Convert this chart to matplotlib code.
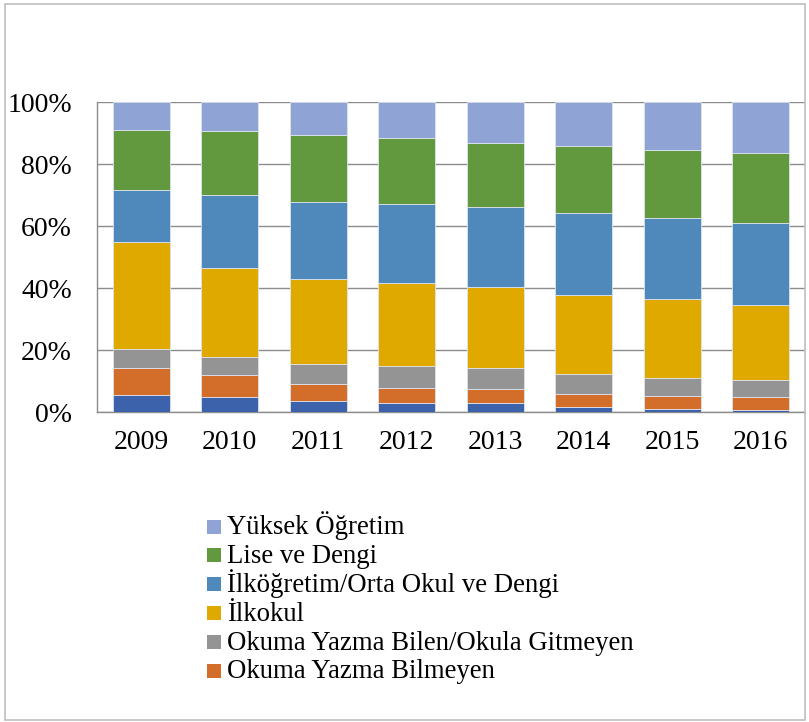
import matplotlib
matplotlib.use("Agg")
import matplotlib.pyplot as plt
from matplotlib.patches import Rectangle
import numpy as np

years = ["2009", "2010", "2011", "2012", "2013", "2014", "2015", "2016"]
bilinmeyen = [5.5, 5.0, 3.5, 2.9, 2.9, 1.5, 1.0, 0.7]
okuma_yazma_bilmeyen = [8.6, 6.9, 5.5, 5.0, 4.5, 4.4, 4.2, 4.1]
okuma_yazma_bilen = [6.1, 5.8, 6.4, 6.8, 6.7, 6.3, 5.8, 5.5]
ilkokul = [34.5, 28.9, 27.6, 26.8, 26.2, 25.5, 25.3, 24.1]
ilkogretim = [17.0, 23.4, 24.8, 25.6, 25.8, 26.5, 26.3, 26.5]
lise = [19.4, 20.7, 21.4, 21.4, 20.8, 21.7, 21.9, 22.8]
yuksek = [8.9, 9.3, 10.8, 11.5, 13.1, 14.1, 15.5, 16.3]

series = [
    ("Bilinmeyen", bilinmeyen, "#3B62AA"),
    ("Okuma Yazma Bilmeyen", okuma_yazma_bilmeyen, "#D26D2A"),
    ("Okuma Yazma Bilen/Okula Gitmeyen", okuma_yazma_bilen, "#949494"),
    ("İlkokul", ilkokul, "#E0A900"),
    ("İlköğretim/Orta Okul ve Dengi", ilkogretim, "#4F89BB"),
    ("Lise ve Dengi", lise, "#62993E"),
    ("Yüksek Öğretim", yuksek, "#8FA3D4"),
]

plt.rcParams['font.family'] = ['Liberation Serif', 'DejaVu Serif']

W, H = 809, 722
fig = plt.figure(figsize=(W / 100, H / 100), dpi=100)
# outer frame
fig.add_artist(Rectangle((5 / W, 2 / H), 800 / W, 716 / H, transform=fig.transFigure,
                         fill=False, edgecolor="#BFBFBF", linewidth=1.2))

ax = fig.add_axes([97 / W, 1 - 412 / H, 708 / W, 310 / H])
x = np.arange(len(years))
data = [np.array(v, dtype=float) for _, v, _ in series]
total = np.sum(data, axis=0)
bottom = np.zeros(len(years))
colors = {}
for (name, vals, col), arr in zip(series, data):
    frac = arr / total
    ax.bar(x, frac, bottom=bottom, width=0.64, color=col,
           edgecolor="#DDE3EE", linewidth=0.6, zorder=3, label=name)
    colors[name] = col
    bottom += frac

ax.set_xlim(-0.5, len(years) - 0.5)
ax.set_ylim(0, 1)
ax.set_yticks(np.linspace(0, 1, 6))
ax.set_yticklabels([f"{int(round(v*100))}%" for v in np.linspace(0, 1, 6)], fontsize=20)
ax.set_xticks(x)
ax.set_xticklabels(years, fontsize=20)
ax.tick_params(axis='y', length=0, pad=18)
ax.tick_params(axis='x', length=0, pad=13)
ax.yaxis.grid(True, color="#8C8C8C", linewidth=1.0, zorder=0)
ax.set_axisbelow(True)
for s in ["top", "right"]:
    ax.spines[s].set_visible(False)
for s in ["left", "bottom"]:
    ax.spines[s].set_color("#8C8C8C")
    ax.spines[s].set_linewidth(1.0)

# legend drawn with uniform row spacing
order = ["Yüksek Öğretim", "Lise ve Dengi", "İlköğretim/Orta Okul ve Dengi",
         "İlkokul", "Okuma Yazma Bilen/Okula Gitmeyen", "Okuma Yazma Bilmeyen"]
row0, step = 526.5, 28.8
for i, name in enumerate(order):
    cy = row0 + i * step
    fig.add_artist(Rectangle((207 / W, 1 - (cy + 7) / H), 14 / W, 14 / H,
                             transform=fig.transFigure, facecolor=colors[name],
                             edgecolor="none"))
    fig.text(227 / W, 1 - (cy + 8) / H, name, fontsize=19.3, ha="left", va="baseline")

fig.savefig("out.png", dpi=100)
